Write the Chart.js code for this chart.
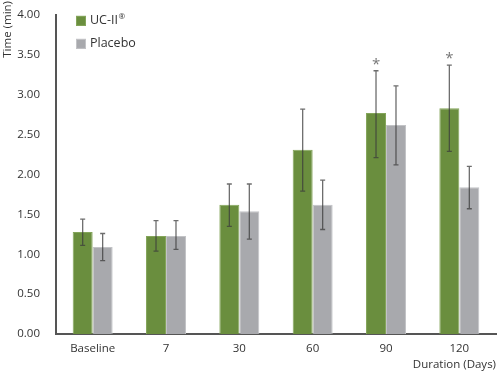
<!DOCTYPE html>
<html>
<head>
<meta charset="utf-8">
<script src="https://cdn.jsdelivr.net/npm/chart.js@4.4.0/dist/chart.umd.min.js"></script>
<style>
  html, body { margin: 0; padding: 0; background: #fff; }
  #wrap { width: 500px; height: 372px; position: relative; }
</style>
</head>
<body>
<div id="wrap"><canvas id="chart"></canvas></div>
<script>
// Chart data
const categories = ['Baseline', '7', '30', '60', '90', '120'];
const ucValues = [1.28, 1.23, 1.62, 2.31, 2.77, 2.83];
const ucErrLow = [1.11, 1.04, 1.35, 1.79, 2.21, 2.29];
const ucErrHigh = [1.44, 1.42, 1.88, 2.82, 3.30, 3.37];
const placeboValues = [1.09, 1.23, 1.54, 1.62, 2.62, 1.84];
const placeboErrLow = [0.92, 1.06, 1.19, 1.31, 2.12, 1.57];
const placeboErrHigh = [1.26, 1.42, 1.88, 1.93, 3.11, 2.10];
const significant = [false, false, false, false, true, true];
const yTicks = [0, 0.5, 1, 1.5, 2, 2.5, 3, 3.5, 4];
const yTitle = 'Time (min)';

const FONT = "'Open Sans', sans-serif";
const GREEN = '#6a8e3e';
const GRAY = '#a8a9ad';

// Error bars + significance asterisks, positioned via the chart scales
const errorBarPlugin = {
  id: 'errorBars',
  afterDatasetsDraw(chart) {
    const ctx = chart.ctx;
    const y = chart.scales.y;
    const errs = [[ucErrLow, ucErrHigh], [placeboErrLow, placeboErrHigh]];
    ctx.save();
    ctx.strokeStyle = 'rgba(60,60,60,0.75)';
    ctx.lineWidth = 1.3;
    errs.forEach((pair, di) => {
      const meta = chart.getDatasetMeta(di);
      meta.data.forEach((bar, i) => {
        const x = bar.x;
        const yLo = y.getPixelForValue(pair[0][i]);
        const yHi = y.getPixelForValue(pair[1][i]);
        ctx.beginPath();
        ctx.moveTo(x, yLo); ctx.lineTo(x, yHi);
        ctx.moveTo(x - 2.5, yLo); ctx.lineTo(x + 2.5, yLo);
        ctx.moveTo(x - 2.5, yHi); ctx.lineTo(x + 2.5, yHi);
        ctx.stroke();
        if (di === 0 && significant[i]) {
          ctx.fillStyle = '#777';
          ctx.font = '15px ' + FONT;
          ctx.textAlign = 'center';
          ctx.textBaseline = 'middle';
          ctx.fillText('*', x, yHi - 6);
        }
      });
    });
    ctx.restore();
  }
};

// Legend drawn inside the plot, top-left; y-axis title pinned to the top edge
const insideLegend = {
  id: 'insideLegend',
  afterDraw(chart) {
    const ctx = chart.ctx;
    const left = chart.chartArea.left + 20;
    let top = chart.chartArea.top + 1;
    ctx.save();
    ctx.textBaseline = 'middle';
    ctx.textAlign = 'left';
    chart.data.datasets.forEach((ds) => {
      ctx.fillStyle = ds.backgroundColor;
      ctx.fillRect(left, top, 10, 10);
      ctx.strokeStyle = ds.borderColor;
      ctx.lineWidth = 1;
      ctx.strokeRect(left + 0.5, top + 0.5, 9, 9);
      ctx.fillStyle = '#333';
      let label = ds.label;
      let sup = '';
      if (label.endsWith('®')) { sup = '®'; label = label.slice(0, -1); }
      ctx.font = '12.5px ' + FONT;
      ctx.fillText(label, left + 14, top + 5);
      if (sup) {
        const w = ctx.measureText(label).width;
        ctx.font = '8px ' + FONT;
        ctx.fillText(sup, left + 14 + w + 0.5, top + 1);
      }
      top += 23;
    });

    ctx.translate(8, 1);
    ctx.rotate(-Math.PI / 2);
    ctx.font = '11.5px ' + FONT;
    ctx.fillStyle = '#333';
    ctx.textAlign = 'right';
    ctx.textBaseline = 'middle';
    ctx.fillText(yTitle, 0, 0);
    ctx.restore();
  }
};

new Chart(document.getElementById('chart'), {
  type: 'bar',
  data: {
    labels: categories,
    datasets: [
      {
        label: 'UC-II®',
        data: ucValues,
        backgroundColor: GREEN,
        borderColor: '#84a55a',
        borderWidth: 1,
        categoryPercentage: 0.545,
        barPercentage: 1.0,
      },
      {
        label: 'Placebo',
        data: placeboValues,
        backgroundColor: GRAY,
        borderColor: '#c2c3c6',
        borderWidth: 1,
        categoryPercentage: 0.545,
        barPercentage: 1.0,
      },
    ],
  },
  options: {
    responsive: true,
    maintainAspectRatio: false,
    animation: false,
    layout: { padding: { top: 11, right: 4, left: 0, bottom: 0 } },
    plugins: {
      legend: { display: false },
      tooltip: { enabled: false },
    },
    scales: {
      x: {
        afterFit: (s) => { s.height = 38; },
        grid: { display: false },
        border: { color: '#555', width: 2 },
        ticks: {
          color: '#333',
          padding: 0,
          font: { family: FONT, size: 11.5 },
        },
        title: {
          display: true,
          text: 'Duration (Days)',
          align: 'end',
          color: '#333',
          padding: { top: -1, bottom: 0 },
          font: { family: FONT, size: 11.5 },
        },
      },
      y: {
        min: 0,
        max: 4,
        afterFit: (s) => { s.width = 56; },
        afterBuildTicks: (s) => { s.ticks = yTicks.map(v => ({ value: v })); },
        grid: { display: false },
        border: { color: '#555', width: 2 },
        ticks: {
          color: '#333',
          padding: 8,
          font: { family: FONT, size: 11.5 },
          callback: (v) => Number(v).toFixed(2),
        },
        title: { display: false },
      },
    },
  },
  plugins: [errorBarPlugin, insideLegend],
});
</script>
</body>
</html>
